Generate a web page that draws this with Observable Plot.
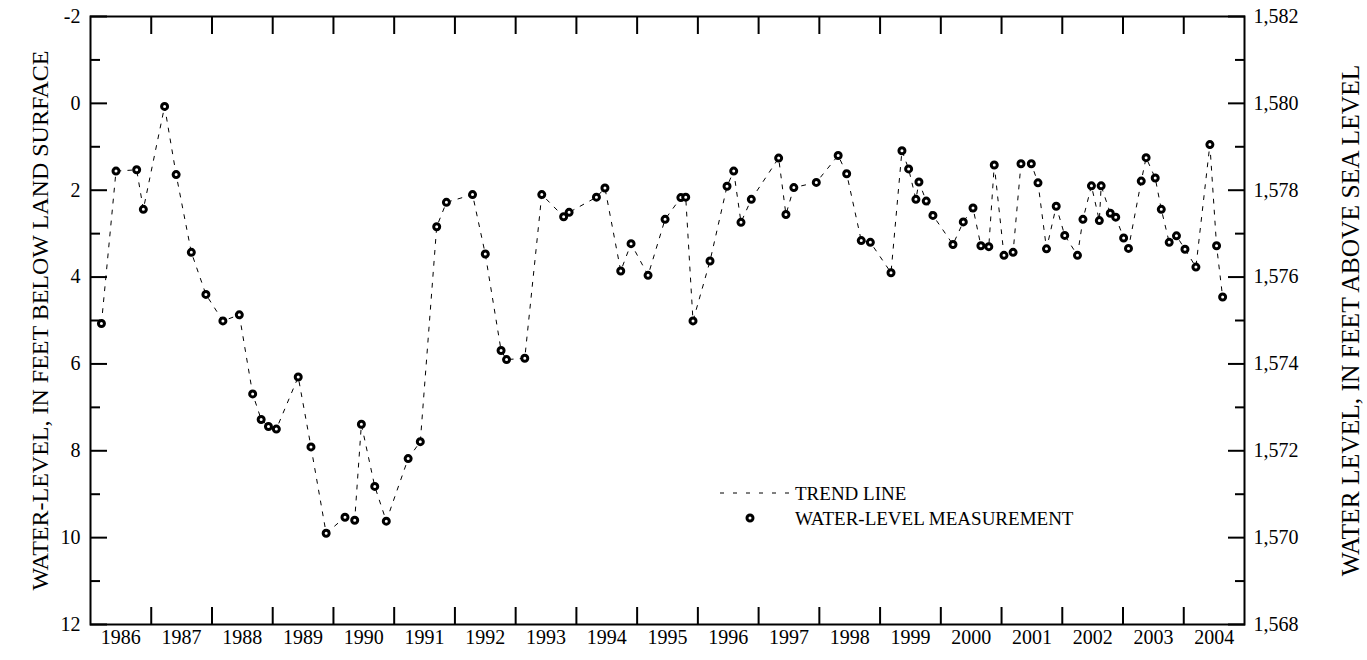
<!DOCTYPE html>
<html>
<head>
<meta charset="utf-8">
<script src="https://cdn.jsdelivr.net/npm/d3@7"></script>
<script src="https://cdn.jsdelivr.net/npm/@observablehq/plot@0.6"></script>
<style>
  html, body { margin: 0; padding: 0; background: #fff; }
  #wrap { position: relative; width: 1367px; height: 660px; font-family: "Liberation Serif", "Times New Roman", serif; }
  #legend { position: absolute; left: 712px; top: 478px; }
</style>
</head>
<body>
<div id="wrap"></div>
<script>
// Measurement dates (decimal years) and depths to water (feet below land surface)
const dates = [
  1986.18, 1986.42, 1986.76, 1986.87, 1987.22, 1987.41, 1987.66, 1987.90, 1988.18, 1988.45,
  1988.67, 1988.81, 1988.93, 1989.06, 1989.42, 1989.63, 1989.88, 1990.19, 1990.35, 1990.46,
  1990.68, 1990.87, 1991.23, 1991.43, 1991.70, 1991.86, 1992.29, 1992.50, 1992.76, 1992.85,
  1993.15, 1993.43, 1993.79, 1993.88, 1994.33, 1994.47, 1994.73, 1994.90, 1995.18, 1995.46,
  1995.72, 1995.80, 1995.92, 1996.20, 1996.48, 1996.59, 1996.71, 1996.88, 1997.33, 1997.45,
  1997.58, 1997.95, 1998.31, 1998.45, 1998.69, 1998.84, 1999.18, 1999.36, 1999.47, 1999.59,
  1999.64, 1999.76, 1999.87, 2000.20, 2000.37, 2000.53, 2000.66, 2000.79, 2000.88, 2001.04,
  2001.19, 2001.32, 2001.49, 2001.60, 2001.74, 2001.90, 2002.04, 2002.25, 2002.34, 2002.48,
  2002.61, 2002.64, 2002.79, 2002.88, 2003.01, 2003.09, 2003.30, 2003.38, 2003.53, 2003.63,
  2003.76, 2003.88, 2004.02, 2004.20, 2004.43, 2004.54, 2004.64
];
const depths = [
  5.07, 1.56, 1.53, 2.44, 0.07, 1.64, 3.43, 4.40, 5.01, 4.87,
  6.69, 7.28, 7.44, 7.50, 6.30, 7.91, 9.90, 9.53, 9.60, 7.39,
  8.82, 9.62, 8.18, 7.79, 2.84, 2.28, 2.10, 3.47, 5.69, 5.90,
  5.87, 2.10, 2.61, 2.51, 2.16, 1.95, 3.86, 3.23, 3.96, 2.67,
  2.17, 2.16, 5.01, 3.63, 1.91, 1.56, 2.74, 2.21, 1.26, 2.56,
  1.94, 1.82, 1.20, 1.62, 3.16, 3.20, 3.90, 1.09, 1.51, 2.21,
  1.81, 2.25, 2.58, 3.25, 2.73, 2.41, 3.28, 3.30, 1.42, 3.50,
  3.43, 1.39, 1.39, 1.83, 3.35, 2.37, 3.04, 3.50, 2.67, 1.90,
  2.70, 1.90, 2.53, 2.62, 3.10, 3.34, 1.79, 1.25, 1.72, 2.44,
  3.20, 3.05, 3.36, 3.77, 0.95, 3.28, 4.46
];

// Axis ticks and labels
const yMajorTicks = [-2, 0, 2, 4, 6, 8, 10, 12];
const yMajorLabels = ["-2", "0", "2", "4", "6", "8", "10", "12"];
const yMinorTicks = [-1, 1, 3, 5, 7, 9, 11];
const rightLabels = ["1,582", "1,580", "1,578", "1,576", "1,574", "1,572", "1,570", "1,568"];
const yearStarts = [1986, 1987, 1988, 1989, 1990, 1991, 1992, 1993, 1994, 1995, 1996, 1997, 1998, 1999, 2000, 2001, 2002, 2003, 2004];
const yearLabels = ["1986", "1987", "1988", "1989", "1990", "1991", "1992", "1993", "1994", "1995", "1996", "1997", "1998", "1999", "2000", "2001", "2002", "2003", "2004"];
const xDomain = [1986, 2005];
const yDomain = [-2, 12];
const leftTitle = "WATER-LEVEL, IN FEET BELOW LAND SURFACE";
const rightTitle = "WATER LEVEL, IN FEET ABOVE SEA LEVEL";
const legendLine = "TREND LINE";
const legendDot = "WATER-LEVEL MEASUREMENT";

const data = dates.map((d, i) => ({date: d, depth: depths[i]}));
const yearBoundaries = yearStarts.slice(1);
const yearMids = yearStarts.map(y => y + 0.5);

const FONT = '"Liberation Serif", "Times New Roman", serif';
const FS = 20;
const chart = Plot.plot({
  width: 1367,
  height: 660,
  marginLeft: 90,
  marginRight: 123,
  marginTop: 16,
  marginBottom: 36,
  style: {fontFamily: FONT, fontSize: FS + "px", color: "#000", background: "#fff"},
  x: {domain: xDomain},
  y: {domain: yDomain, reverse: true},
  marks: [
    Plot.frame({stroke: "#000", strokeWidth: 2}),
    // left axis
    Plot.axisY({anchor: "left", ticks: yMajorTicks, tickSize: -17, tickPadding: 27, strokeWidth: 2, fontSize: FS,
      tickFormat: d => yMajorLabels[yMajorTicks.indexOf(d)], label: null}),
    Plot.axisY({anchor: "left", ticks: yMinorTicks, tickSize: -10, tickPadding: 0, strokeWidth: 2,
      tickFormat: () => "", label: null}),
    // right axis
    Plot.axisY({anchor: "right", ticks: yMajorTicks, tickSize: -17, tickPadding: 26, strokeWidth: 2, fontSize: FS,
      tickFormat: d => rightLabels[yMajorTicks.indexOf(d)], label: null}),
    Plot.axisY({anchor: "right", ticks: yMinorTicks, tickSize: -10, tickPadding: 0, strokeWidth: 2,
      tickFormat: () => "", label: null}),
    // x ticks at year boundaries (inward, top and bottom)
    Plot.axisX({anchor: "bottom", ticks: yearBoundaries, tickSize: -17, tickPadding: 0, strokeWidth: 2,
      tickFormat: () => "", label: null}),
    Plot.axisX({anchor: "top", ticks: yearBoundaries, tickSize: -17, tickPadding: 0, strokeWidth: 2,
      tickFormat: () => "", label: null}),
    // year labels centred in each year
    Plot.axisX({anchor: "bottom", ticks: yearMids, tickSize: 0, tickPadding: 5, fontSize: FS,
      tickFormat: d => yearLabels[yearMids.indexOf(d)], label: null}),
    // axis titles
    Plot.text([leftTitle], {text: d => d, frameAnchor: "left", textAnchor: "middle", lineAnchor: "middle",
      rotate: -90, dx: -50, fontSize: 24, fontFamily: FONT}),
    Plot.text([rightTitle], {text: d => d, frameAnchor: "right", textAnchor: "middle", lineAnchor: "middle",
      rotate: -90, dx: 106, fontSize: 25.5, fontFamily: FONT}),
    // data
    Plot.line(data, {x: "date", y: "depth", stroke: "#000", strokeWidth: 1, strokeDasharray: "4,7"}),
    Plot.dot(data, {x: "date", y: "depth", r: 3, stroke: "#000", strokeWidth: 3, fill: "#fff"})
  ]
});
const wrap = document.getElementById("wrap");
wrap.appendChild(chart);

// Legend (overlay inside the plot area)
const lg = d3.select(wrap).append("svg").attr("id", "legend").attr("width", 400).attr("height", 60);
lg.append("line").attr("x1", 8).attr("x2", 80).attr("y1", 15).attr("y2", 15)
  .attr("stroke", "#000").attr("stroke-width", 1).attr("stroke-dasharray", "4,9");
lg.append("text").attr("x", 83).attr("y", 15).attr("dy", "0.35em").attr("font-size", 19)
  .attr("font-family", FONT).text(legendLine);
lg.append("circle").attr("cx", 38).attr("cy", 40).attr("r", 3).attr("fill", "#fff")
  .attr("stroke", "#000").attr("stroke-width", 3);
lg.append("text").attr("x", 83).attr("y", 40).attr("dy", "0.35em").attr("font-size", 19)
  .attr("font-family", FONT).text(legendDot);
</script>
</body>
</html>
